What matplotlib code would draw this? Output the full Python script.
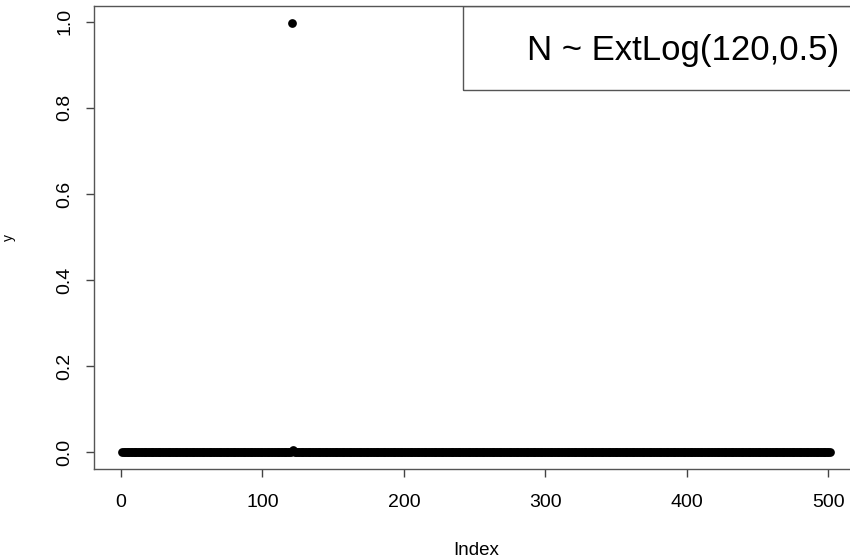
import numpy as np
import matplotlib
matplotlib.use("Agg")
import matplotlib.pyplot as plt
from matplotlib.patches import Rectangle

# probability mass of N ~ ExtLog(120, 0.5) evaluated on 1..501
n_points = 501
peak_index = [121, 122]
peak_value = [0.997, 0.006]
x_ticks = [0, 100, 200, 300, 400, 500]
y_ticks = [0.0, 0.2, 0.4, 0.6, 0.8, 1.0]
legend_text = "N ~ ExtLog(120,0.5)"

plt.rcParams['font.family'] = ['Liberation Sans', 'DejaVu Sans']


def r_range(lo, hi):
    # R pads the data range by 4% on each side
    pad = (hi - lo) * 0.04
    return lo - pad, hi + pad


def main():
    index = np.arange(1, n_points + 1)
    y = np.zeros(n_points)
    y[np.array(peak_index) - 1] = peak_value

    fig = plt.figure(figsize=(8.5, 5.6), dpi=100)
    ax = fig.add_axes([94 / 850, 1 - 469.3 / 560, 764 / 850, 463.3 / 560])

    ax.plot(index, y, 'o', color='black', ms=6.3, mew=0)

    ax.set_xlim(*r_range(index.min(), index.max()))
    ax.set_ylim(*r_range(y.min(), y.max()))

    ax.set_xticks(x_ticks)
    ax.set_xticklabels([str(t) for t in x_ticks])
    ax.set_yticks(y_ticks)
    ax.set_yticklabels([f"{t:.1f}" for t in y_ticks], rotation=90, va='center')
    ax.tick_params(direction='out', length=6, width=1, color='#444444',
                   labelsize=14, pad=9)
    ax.tick_params(axis='x', pad=12)

    for s in ax.spines.values():
        s.set_color('#555555')
        s.set_linewidth(1)

    ax.set_xlabel('Index', fontsize=13.5, labelpad=22)
    ax.set_ylabel('y', fontsize=10)
    ax.yaxis.set_label_coords(-78 / 764, 0.5)

    # legend box pinned to the top-right corner
    ax.add_patch(Rectangle((0.4826, 0.8187), 0.5174, 0.1813, transform=ax.transAxes,
                           fill=False, edgecolor='#555555', linewidth=1))
    ax.text(0.771, 0.905, legend_text, transform=ax.transAxes, fontsize=25,
            ha='center', va='center')

    fig.savefig('out.png', dpi=100)


main()
